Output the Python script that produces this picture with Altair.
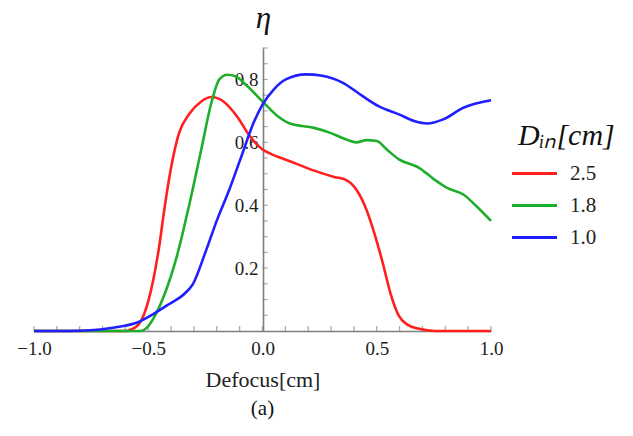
import altair as alt
import pandas as pd

# ---- data ----
red_x = [-1.0, -0.8, -0.6, -0.586, -0.542, -0.498, -0.454, -0.427, -0.40, -0.365, -0.321, -0.268, -0.224,
         -0.171, -0.109, -0.056, 0.0, 0.032, 0.12, 0.226, 0.314, 0.367, 0.40, 0.447, 0.49, 0.526,
         0.56, 0.597, 0.632, 0.685, 0.755, 0.85, 1.0]
red_y = [0.0, 0.0, 0.0, 0.002, 0.021, 0.10, 0.26, 0.40, 0.52, 0.63, 0.69, 0.73, 0.744,
         0.73, 0.68, 0.62, 0.577, 0.565, 0.54, 0.51, 0.49, 0.48, 0.46, 0.40, 0.31, 0.217,
         0.12, 0.048, 0.021, 0.007, 0.0, 0.0, 0.0]

green_x = [-1.0, -0.8, -0.6, -0.533, -0.507, -0.471, -0.427, -0.374, -0.321, -0.268, -0.224, -0.189,
           -0.154, -0.118, -0.074, 0.0, 0.067, 0.12, 0.226, 0.297, 0.367, 0.411, 0.455, 0.50, 0.544,
           0.597, 0.685, 0.755, 0.808, 0.879, 0.932, 1.0]
green_y = [0.0, 0.0, 0.0, 0.0, 0.01, 0.048, 0.12, 0.24, 0.40, 0.577, 0.725, 0.80,
           0.815, 0.81, 0.784, 0.73, 0.683, 0.66, 0.646, 0.63, 0.609, 0.60, 0.607, 0.604, 0.577,
           0.546, 0.519, 0.48, 0.455, 0.434, 0.40, 0.35]

blue_x = [-1.0, -0.9, -0.798, -0.71, -0.621, -0.551, -0.48, -0.41, -0.339, -0.304, -0.25, -0.198,
          -0.145, -0.092, -0.039, 0.0, 0.049, 0.102, 0.19, 0.261, 0.35, 0.438, 0.508, 0.597, 0.667,
          0.72, 0.791, 0.879, 1.0]
blue_y = [0.0, 0.0, 0.001, 0.005, 0.014, 0.026, 0.053, 0.085, 0.12, 0.15, 0.25, 0.355,
          0.45, 0.556, 0.662, 0.72, 0.768, 0.80, 0.816, 0.812, 0.79, 0.747, 0.715, 0.689, 0.667,
          0.66, 0.673, 0.71, 0.734]

series_names = ["2.5", "1.8", "1.0"]
series_colors = ["#ff1f1f", "#1fae2c", "#1f1fff"]

x_tick_labels = [-1.0, -0.5, 0.0, 0.5, 1.0]
y_tick_labels = [0.2, 0.4, 0.6, 0.8]
x_minor = [round(-1.0 + 0.1 * i, 2) for i in range(21)]
y_minor = [round(0.05 * i, 2) for i in range(1, 19)]

rows = []
for name, xs, ys in zip(series_names, [red_x, green_x, blue_x], [red_y, green_y, blue_y]):
    for i, (a, b) in enumerate(zip(xs, ys)):
        rows.append({"x": a, "y": b, "D": name, "i": i})
df = pd.DataFrame(rows)
df_xminor = pd.DataFrame({"x": x_minor})
df_yminor = pd.DataFrame({"y": y_minor})

SERIF = "Liberation Serif"
AXIS_GRAY = "#808080"
PLOT_W = 457
PLOT_H = 283

x_scale = alt.Scale(domain=[-1, 1], nice=False, zero=False)
y_scale = alt.Scale(domain=[0, 0.9], nice=False, zero=False)

lines = alt.Chart(df).mark_line(strokeWidth=2.6, interpolate="monotone").encode(
    x=alt.X("x:Q", scale=x_scale,
            axis=alt.Axis(values=x_tick_labels, format=".1f", ticks=False, grid=False,
                          domainColor=AXIS_GRAY, domainWidth=1.6,
                          labelFont=SERIF, labelFontSize=19, labelColor="#222222",
                          labelPadding=8, labelFlush=False,
                          title="Defocus[cm]", titleFont=SERIF, titleFontSize=22,
                          titleFontWeight="normal", titleColor="#222222", titlePadding=11)),
    y=alt.Y("y:Q", scale=y_scale,
            axis=alt.Axis(values=y_tick_labels, format=".1f", ticks=False, grid=False,
                          offset=-229, domainColor=AXIS_GRAY, domainWidth=1.6,
                          labelFont=SERIF, labelFontSize=19, labelColor="#222222",
                          labelPadding=5,
                          title="η", titleFont=SERIF, titleFontSize=31, titleFontStyle="italic",
                          titleFontWeight="normal", titleColor="#111111", titleAngle=0,
                          titleAlign="center", titleBaseline="alphabetic",
                          titleX=0, titleY=-21)),
    color=alt.Color("D:N", sort=series_names,
                    scale=alt.Scale(domain=series_names, range=series_colors),
                    legend=alt.Legend(title="Dᵢₙ[cm]", orient="none", legendX=484, legendY=73,
                                      titleFont=SERIF, titleFontSize=30, titleFontStyle="italic",
                                      titleFontWeight="normal", titleColor="#111111",
                                      titlePadding=6,
                                      labelFont=SERIF, labelFontSize=21, labelColor="#222222",
                                      labelOffset=19,
                                      symbolType="M-1.5,0H1.5", symbolSize=900,
                                      symbolStrokeWidth=3, rowPadding=5)),
    detail="D:N",
    order="i:Q",
)

x_minor_ticks = alt.Chart(df_xminor).mark_tick(
    orient="vertical", size=5, thickness=1.2, color=AXIS_GRAY
).encode(
    x=alt.X("x:Q", scale=x_scale),
    y=alt.datum(0),
    yOffset=alt.value(-2.5),
)

y_minor_ticks = alt.Chart(df_yminor).mark_tick(
    orient="horizontal", size=5, thickness=1.2, color=AXIS_GRAY
).encode(
    y=alt.Y("y:Q", scale=y_scale),
    x=alt.datum(0),
    xOffset=alt.value(2.5),
)

chart = alt.layer(x_minor_ticks, y_minor_ticks, lines).properties(
    width=PLOT_W, height=PLOT_H,
    background="white",
    autosize=alt.AutoSizeParams(type="none"),
    padding={"left": 34, "top": 48, "right": 142, "bottom": 105},
    title=alt.TitleParams(text="(a)", orient="bottom", font=SERIF, fontSize=21,
                          fontWeight="normal", color="#111111", offset=8, anchor="middle"),
).configure_view(strokeWidth=0, stroke="transparent")

chart.save("out.html", embed_options={"renderer": "svg", "actions": False})
